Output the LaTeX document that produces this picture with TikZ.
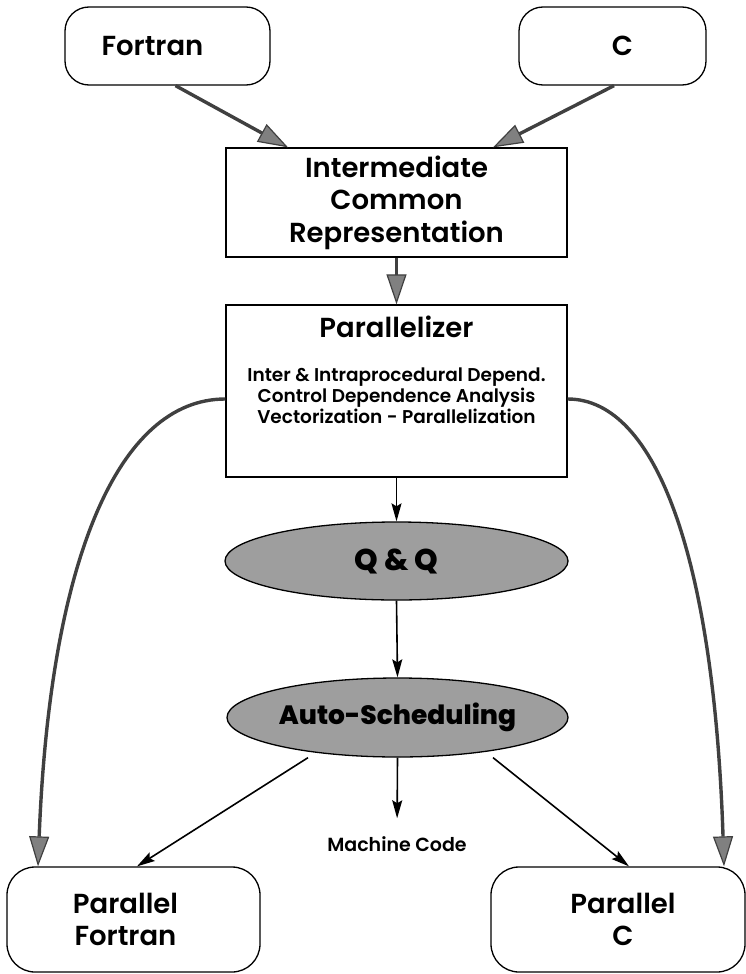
\documentclass[tikz,border=0pt]{standalone}
\usepackage{fontspec}
\setmainfont{Poppins}[UprightFont=* SemiBold,BoldFont=* ExtraBold]
\usetikzlibrary{arrows.meta,shapes.geometric}

\begin{document}
\begin{tikzpicture}[x=1pt,y=-1pt,
  rbox/.style={draw,line width=1.3pt,rounded corners=24pt,inner sep=0pt,
               align=center,font=\fontsize{27.5}{32}\selectfont},
  sqbox/.style={draw,line width=1.3pt,inner sep=0pt,align=center,
                font=\fontsize{27.5}{32.5}\selectfont},
  oval/.style={ellipse,draw,line width=1.3pt,fill=black!38,inner sep=0pt,
               font=\bfseries},
  bigarrow/.style={draw=black!75,line width=3.4pt,
    -{Triangle[length=30pt,width=20pt,line width=1.2pt,fill=black!50]}},
  thinarrow/.style={draw=black,line width=1.6pt,
    -{Stealth[length=18pt,width=10pt,inset=3pt]}},
]
\useasboundingbox (0,0) rectangle (746,974);

% source languages
\node[rbox,minimum width=205pt,minimum height=78pt] (fortran) at (167.5,46)
  {\hspace*{-30pt}Fortran};
\node[rbox,minimum width=187pt,minimum height=78pt] (c) at (612.5,46)
  {\hspace*{20pt}C};

% intermediate representation
\node[sqbox,minimum width=341pt,minimum height=109pt] (ir) at (396.5,202.5)
  {Intermediate\\Common\\Representation};

% parallelizer
\node[sqbox,minimum width=341pt,minimum height=172pt] (par) at (396.5,391) {};
\node[anchor=base,font=\fontsize{27.5}{32}\selectfont,inner sep=0pt]
  (partitle) at (396.5,337) {Parallelizer};
\node[anchor=base,align=center,inner sep=0pt,
      font=\fontsize{18.5}{21}\selectfont] (partext) at (396.5,423)
  {Inter \& Intraprocedural Depend.\\Control Dependence Analysis\\
   Vectorization - Parallelization};

% analysis / scheduling stages
\node[oval,minimum width=343pt,minimum height=78pt,
      font=\fontsize{30}{32}\selectfont\bfseries] (qq) at (396.5,561) {Q \& Q};
\node[oval,minimum width=341pt,minimum height=79pt,
      font=\fontsize{26.5}{32}\selectfont\bfseries] (auto) at (397.5,717.5)
  {Auto-Scheduling};

\node[font=\fontsize{19}{21}\selectfont,inner sep=0pt] (mc) at (397,844)
  {Machine Code};

% targets
\node[rbox,minimum width=253pt,minimum height=105pt,rounded corners=28pt]
  (pf) at (133.5,919.5) {\hspace*{-16pt}Parallel\\\hspace*{-16pt}Fortran};
\node[rbox,minimum width=254pt,minimum height=105pt,rounded corners=28pt]
  (pc) at (618,919.5) {\hspace*{10pt}Parallel\\\hspace*{10pt}C};

% front ends
\draw[bigarrow] ([xshift=8pt]fortran.south) -- ([xshift=-108.5pt]ir.north);
\draw[bigarrow] ([xshift=1.5pt]c.south) -- ([xshift=96.5pt]ir.north);
\draw[bigarrow] (ir.south) -- (par.north);

% source-to-source paths
\draw[bigarrow] ([yshift=-8pt]par.west)
  .. controls +(-107,0) and +(12,-307) .. ([xshift=-95.5pt]pf.north);
\draw[bigarrow] ([yshift=-8pt]par.east)
  .. controls +(89,0) and +(-10,-307) .. ([xshift=106pt]pc.north);

% scheduling chain
\draw[thinarrow] (par.south) -- (qq.north);
\draw[thinarrow] (qq.south) -- (auto.north);
\draw[thinarrow] ([xshift=-89.5pt]auto.south) -- ([xshift=3.5pt]pf.north);
\draw[thinarrow] ([xshift=95.5pt]auto.south) -- ([xshift=11pt]pc.north);
\draw[thinarrow,shorten >=18pt] (auto.south) -- (mc.north);
\end{tikzpicture}
\end{document}
